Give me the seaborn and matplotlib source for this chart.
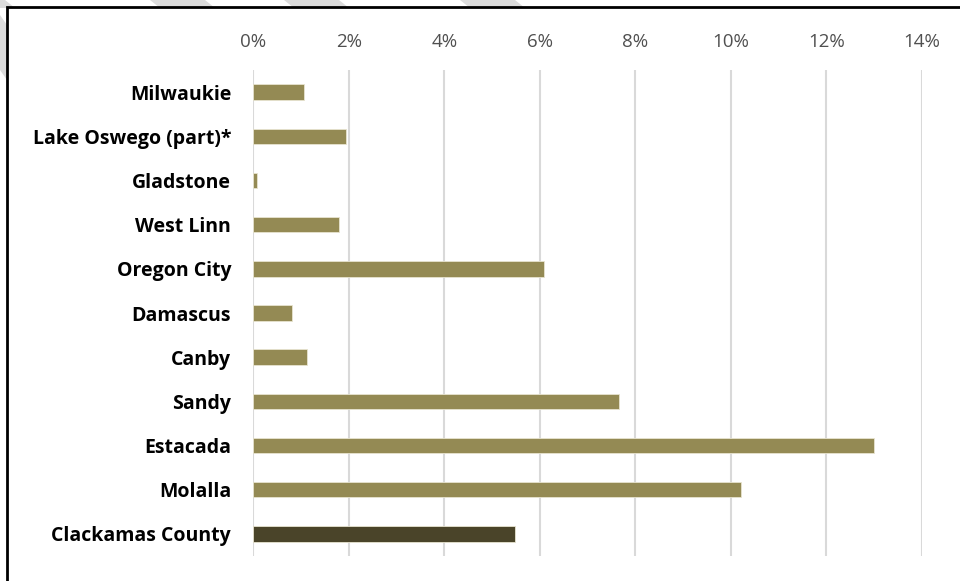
import matplotlib
matplotlib.use("Agg")
import matplotlib.pyplot as plt
from matplotlib.patches import Rectangle, Polygon
from matplotlib.ticker import FuncFormatter
import seaborn as sns
import pandas as pd

# Share of residents, by city (percent)
places = ["Milwaukie", "Lake Oswego (part)*", "Gladstone", "West Linn", "Oregon City",
          "Damascus", "Canby", "Sandy", "Estacada", "Molalla", "Clackamas County"]
shares = [1.05, 1.93, 0.08, 1.80, 6.08, 0.80, 1.13, 7.65, 13.0, 10.2, 5.47]
groups = ["City"] * 10 + ["County"]
x_ticks = [0, 2, 4, 6, 8, 10, 12, 14]

df = pd.DataFrame({"place": places, "share": shares, "group": groups})

sns.set_theme(style="white")
plt.rcParams["font.family"] = ["Open Sans", "DejaVu Sans"]

fig = plt.figure(figsize=(9.6, 5.81), dpi=100)
ax = fig.add_axes([0.264, 0.043, 0.6964, 0.8365])

sns.barplot(data=df, x="share", y="place", hue="group", orient="h",
            palette={"City": "#948a54", "County": "#4a4429"}, saturation=1,
            width=0.35, dodge=False, legend=False, ax=ax,
            edgecolor="#e8e4d0", linewidth=0.6, zorder=3)

ax.set_xlim(0, 14)
ax.set_xticks(x_ticks)
ax.xaxis.set_major_formatter(FuncFormatter(lambda v, _: f"{v:.0f}%"))
ax.xaxis.tick_top()
ax.tick_params(axis="x", length=0, pad=14, labelsize=13.5, labelcolor="#505050")
ax.tick_params(axis="y", length=0, pad=16, labelsize=14, labelcolor="#000000")
for lbl in ax.get_yticklabels():
    lbl.set_fontweight("bold")
ax.grid(axis="x", color="#d9d9d9", linewidth=1.5, zorder=0)
ax.set_axisbelow(True)
ax.set_xlabel("")
ax.set_ylabel("")
for s in ax.spines.values():
    s.set_visible(False)

# light diagonal bands in the top-left margin
W, H = 960, 581
for x0 in [-50, 150, 284, 460]:
    pts = [(x0, H), (x0 + 55, H), (x0 + 65, H - 8), (x0 + 10, H - 8)]
    fig.add_artist(Polygon([(px / W, py / H) for px, py in pts], closed=True,
                           transform=fig.transFigure, facecolor="#dcdcdc",
                           edgecolor="none", zorder=0))
fig.add_artist(Polygon([(0, (H - 15) / H), (7 / W, (H - 25) / H), (7 / W, (H - 80) / H),
                        (0, (H - 70) / H)], closed=True, transform=fig.transFigure,
                       facecolor="#dcdcdc", edgecolor="none", zorder=0))

# outer frame
fig.add_artist(Rectangle((7 / W, -0.1), 1.2, 1.1 - 7 / H, transform=fig.transFigure,
                         fill=False, edgecolor="black", linewidth=2, zorder=5))

fig.savefig("out.png", dpi=100)
